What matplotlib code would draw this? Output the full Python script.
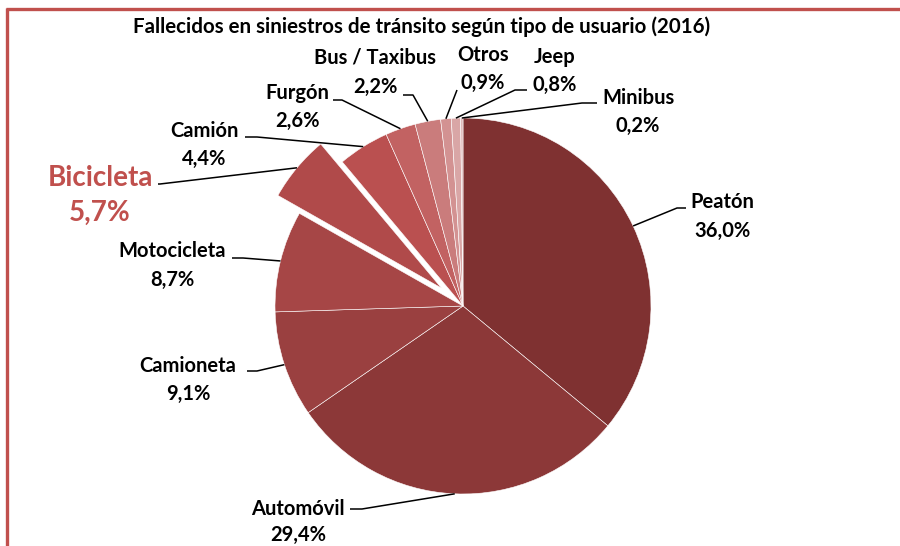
import math
import matplotlib
matplotlib.use('Agg')
import matplotlib.pyplot as plt

plt.rcParams['font.family'] = ['Lato', 'DejaVu Sans']

# data
categories = ['Peatón', 'Automóvil', 'Camioneta', 'Motocicleta', 'Bicicleta',
              'Camión', 'Furgón', 'Bus / Taxibus', 'Otros', 'Jeep', 'Minibus']
shares = [36.0, 29.4, 9.1, 8.7, 5.7, 4.4, 2.6, 2.2, 0.9, 0.8, 0.2]
pct_labels = ['36,0%', '29,4%', '9,1%', '8,7%', '5,7%', '4,4%',
              '2,6%', '2,2%', '0,9%', '0,8%', '0,2%']
highlight = 'Bicicleta'
title = 'Fallecidos en siniestros de tránsito según tipo de usuario (2016)'

colors = ['#7F3131', '#8C3838', '#9A4040', '#A64646', '#B04A4A', '#BA5050',
          '#C26262', '#CA7C7C', '#D39292', '#D9A6A6', '#DFBABA']
accent = '#C0504D'

W, H = 900, 546


def py(y):
    # pixel-from-top -> data y
    return H - y


# label layout: (x, name y, pct y, elbow, end) in pixels from top-left
layout = {
    'Peatón':        (722, 202, 231, (677, 208), (686, 208)),
    'Automóvil':     (298, 509, 535, (362, 509), (350, 509)),
    'Camioneta':     (188, 366, 394, (257, 371), (247, 371)),
    'Motocicleta':   (172, 251, 280, (243, 258), (232, 258)),
    'Bicicleta':     (100, 178, 213, (160, 184), (158, 184)),
    'Camión':        (204, 131, 159, (257, 137), (245, 137)),
    'Furgón':        (297, 93, 121, (342, 100), (333, 100)),
    'Bus / Taxibus': (375, 57, 87, (413, 95), (403, 95)),
    'Otros':         (483, 55, 83, (457, 90), (457, 90)),
    'Jeep':          (555, 57, 85, (515, 90), (527, 90)),
    'Minibus':       (638, 98, 126, (582, 103), (597, 103)),
}

fig = plt.figure(figsize=(9, 5.46), dpi=100)
ax = fig.add_axes([0, 0, 1, 1])

explode = [28 if c == highlight else 0 for c in categories]
wedges, _ = ax.pie(shares, colors=colors, startangle=90, counterclock=False,
                   radius=188, center=(463, py(306)), explode=explode,
                   wedgeprops=dict(edgecolor='white', linewidth=0.4))

ax.set_xlim(0, W)
ax.set_ylim(0, H)
ax.set_aspect('equal')
ax.axis('off')

for w, cat, pct in zip(wedges, categories, pct_labels):
    x, yn, yp, elbow, end = layout[cat]
    mid = math.radians((w.theta1 + w.theta2) / 2)
    cx, cy = w.center
    ax_x = cx + w.r * math.cos(mid)
    ax_y = cy + w.r * math.sin(mid)
    ax.plot([ax_x, elbow[0], end[0]], [ax_y, py(elbow[1]), py(end[1])],
            color='black', lw=1.1, solid_capstyle='butt')
    if cat == highlight:
        kw = dict(fontsize=20, color=accent)
    else:
        kw = dict(fontsize=14.5, color='black')
    ax.text(x, py(yn), cat, ha='center', va='center', fontweight='bold', **kw)
    ax.text(x, py(yp), pct, ha='center', va='center', fontweight='bold', **kw)

ax.text(422, py(27), title, ha='center', va='center', fontsize=14.8,
        fontweight='bold', color='black')

# chart frame (top and left edges visible)
ax.plot([6, W], [py(9), py(9)], color=accent, lw=2.4, solid_capstyle='butt')
ax.plot([7, 7], [py(8), 0], color=accent, lw=2.4, solid_capstyle='butt')

fig.savefig('out.png', dpi=100, facecolor='white')
